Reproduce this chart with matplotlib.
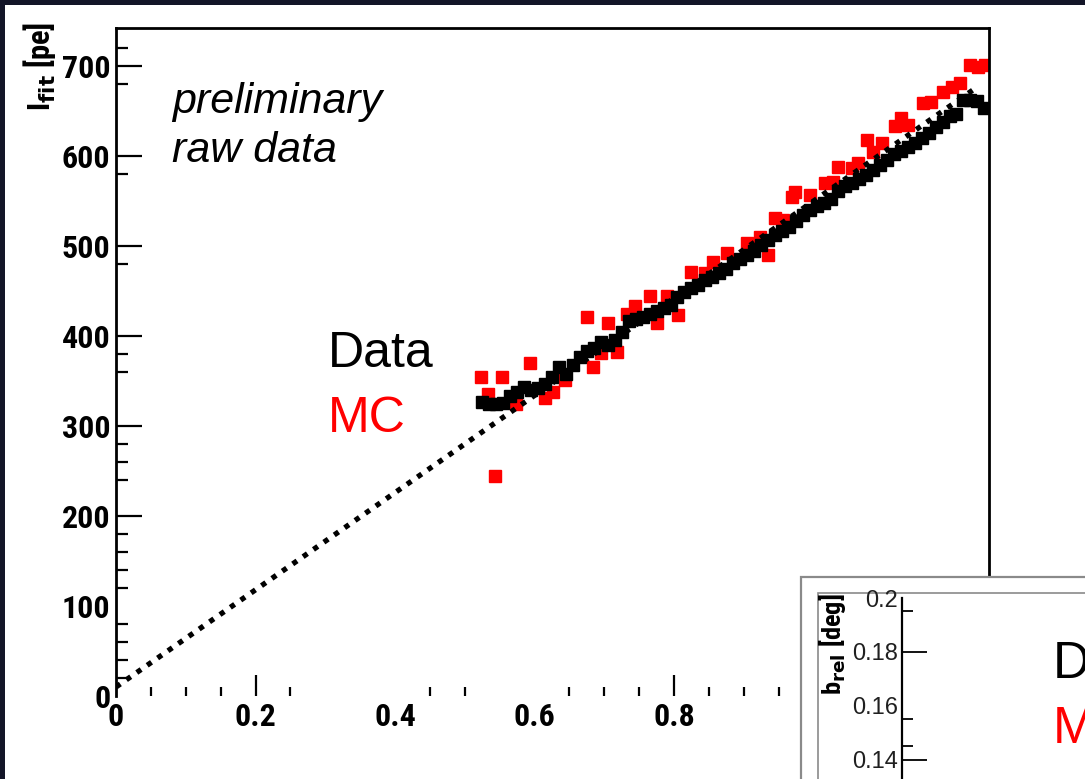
import matplotlib
matplotlib.use("Agg")
import matplotlib.pyplot as plt
from matplotlib.patches import Rectangle
from matplotlib import font_manager
import numpy as np

W, H = 1085, 779

# data
data_x = [0.525, 0.535, 0.545, 0.555, 0.565, 0.575, 0.585, 0.595, 0.605, 0.615,
          0.625, 0.635, 0.645, 0.655, 0.665, 0.675, 0.685, 0.695, 0.705, 0.715,
          0.725, 0.735, 0.745, 0.755, 0.765, 0.775, 0.785, 0.795, 0.805, 0.815,
          0.825, 0.835, 0.845, 0.855, 0.865, 0.875, 0.885, 0.895, 0.905, 0.915,
          0.925, 0.935, 0.945, 0.955, 0.965, 0.975, 0.985, 0.995, 1.005, 1.015,
          1.025, 1.035, 1.045, 1.055, 1.065, 1.075, 1.085, 1.095, 1.105, 1.115,
          1.125, 1.135, 1.145, 1.155, 1.165, 1.175, 1.185, 1.195, 1.205, 1.215,
          1.225, 1.235, 1.245]
data_y = [327, 325, 325, 326, 333, 338, 343, 340, 342, 347,
          354, 366, 358, 368, 377, 383, 387, 393, 390, 396,
          405, 417, 419, 421, 425, 428, 431, 435, 443, 449,
          453, 457, 462, 466, 470, 475, 481, 486, 490, 495,
          501, 507, 512, 517, 521, 528, 535, 540, 544, 548,
          552, 561, 567, 570, 575, 579, 584, 590, 596, 602,
          606, 610, 615, 620, 626, 632, 638, 644, 647, 662,
          662, 661, 653]

mc_x = [0.524, 0.553, 0.533, 0.543, 0.574, 0.594, 0.615, 0.627, 0.644, 0.675,
        0.684, 0.696, 0.706, 0.718, 0.732, 0.744, 0.766, 0.775, 0.790, 0.806,
        0.825, 0.844, 0.856, 0.876, 0.904, 0.923, 0.935, 0.945, 0.956, 0.969,
        0.973, 0.995, 1.016, 1.028, 1.035, 1.055, 1.064, 1.076, 1.085, 1.098,
        1.117, 1.126, 1.136, 1.157, 1.169, 1.186, 1.198, 1.210, 1.224, 1.236,
        1.246]
mc_y = [355, 355, 336, 245, 325, 370, 331, 338, 351, 421,
        366, 381, 414, 382, 425, 433, 444, 415, 444, 423,
        471, 470, 482, 492, 503, 510, 490, 531, 529, 555,
        560, 557, 570, 571, 588, 587, 592, 618, 605, 614,
        633, 642, 634, 659, 660, 671, 677, 681, 701, 699,
        701]

fit_x = [0.0, 1.228]
fit_y = [10, 673]

x_labels = [0, 0.2, 0.4, 0.6, 0.8]
x_minor = [0.05, 0.1, 0.15, 0.25, 0.45, 0.5, 0.65, 0.7, 0.75, 0.85, 0.9, 0.95]
y_labels = [0, 100, 200, 300, 400, 500, 600, 700]
y_minor = [20, 40, 60, 80, 120, 140, 160, 180, 240, 260, 280, 360, 380, 480, 580, 680, 720]

inset_labels = [0.14, 0.16, 0.18, 0.2]
inset_minor = [0.145, 0.155, 0.195]

# narrow bold font for the ROOT-style axis text, if there is one
names = {f.name for f in font_manager.fontManager.ttflist}
narrow_name = 'DejaVu Sans'
for cand in ['Liberation Sans Narrow', 'Roboto Condensed', 'Open Sans Condensed', 'DejaVu Sans']:
    if cand in names:
        narrow_name = cand
        break
narrow = [narrow_name, 'DejaVu Sans']
arial = ['Liberation Sans', 'DejaVu Sans']
condensed = any(f.name == 'DejaVu Sans' and f.stretch == 'condensed'
                for f in font_manager.fontManager.ttflist)
tick_size = 23 if narrow_name != 'DejaVu Sans' else (20 if condensed else 17)


def fx(px):
    return px / W


def fy(py):
    return 1 - py / H


fig = plt.figure(figsize=(W / 100, H / 100), dpi=100, facecolor='#131528')

# white panel
fig.patches.append(Rectangle((fx(5), -0.1), 1.2, fy(5) + 0.1, transform=fig.transFigure,
                             facecolor='white', edgecolor='none', zorder=-5))

ax = fig.add_axes([fx(116), fy(696), (989 - 116) / W, (696 - 28) / H])
ax.set_facecolor('white')
ax.set_xlim(0, (989 - 116) / 697.5)
ax.set_ylim(0, (696 - 28) / 0.9)
for s in ['left', 'top', 'right']:
    ax.spines[s].set_linewidth(2.0)
ax.spines['bottom'].set_visible(False)

ax.plot(fit_x, fit_y, color='black', lw=3.8, linestyle=(0, (1.0, 1.4)),
        dash_capstyle='butt', zorder=4)
ax.errorbar(data_x, data_y, xerr=0.006, yerr=4, fmt='s', ms=8.2, color='black',
            elinewidth=1.8, capsize=0, zorder=3)
ax.errorbar(mc_x, mc_y, xerr=0.007, yerr=4, fmt='s', ms=8.4, color='#ff0000',
            elinewidth=1.8, capsize=0, zorder=2)

ax.set_xticks(x_labels)
ax.set_xticklabels(['0', '0.2', '0.4', '0.6', '0.8'])
ax.set_xticks(x_minor, minor=True)
ax.set_yticks(y_labels)
ax.set_yticklabels([str(v) for v in y_labels])
ax.set_yticks(y_minor, minor=True)
ax.tick_params(axis='x', which='major', direction='in', length=15, width=1.6, pad=4,
               labelsize=tick_size)
ax.tick_params(axis='x', which='minor', direction='in', length=6.5, width=1.6)
ax.tick_params(axis='y', which='major', direction='in', length=19, width=1.6, pad=4,
               labelsize=tick_size)
ax.tick_params(axis='y', which='minor', direction='in', length=8.5, width=1.6)
for lab in ax.get_xticklabels() + ax.get_yticklabels():
    lab.set_family(narrow)
    lab.set_fontweight('bold')
    lab.set_fontstretch('condensed')
for i, t in enumerate(ax.xaxis.get_major_ticks()):
    if x_labels[i] in (0, 0.4, 0.6):
        t.tick1line.set_visible(False)
for i, t in enumerate(ax.yaxis.get_major_ticks()):
    if y_labels[i] in (0, 100):
        t.tick1line.set_visible(False)

fig.text(fx(40), fy(22), r'I$_{\mathbf{fit}}$ [pe]', rotation=90, ha='center', va='top',
         family=narrow, fontweight='bold', fontstretch='condensed', fontsize=22)

fig.text(fx(172), fy(113), 'preliminary', family=arial, style='italic', fontsize=31,
         va='baseline')
fig.text(fx(172), fy(162), 'raw data', family=arial, style='italic', fontsize=31,
         va='baseline')
fig.text(fx(328), fy(367), 'Data', family=arial, fontsize=36, va='baseline', color='black')
fig.text(fx(328), fy(432), 'MC', family=arial, fontsize=36, va='baseline', color='#ff0000')

# inset panel (cut by the picture edge)
fig.patches.append(Rectangle((fx(801), -0.2), 0.5, fy(577) + 0.2, transform=fig.transFigure,
                             facecolor='white', edgecolor='#8a8a8a', lw=1.6, zorder=2))
fig.patches.append(Rectangle((fx(818), -0.2), 0.5, fy(593) + 0.2, transform=fig.transFigure,
                             facecolor='none', edgecolor='#8a8a8a', lw=1.2, zorder=2.1))

axi = fig.add_axes([fx(902), -0.2, 0.5, fy(598) + 0.2], zorder=3)
axi.patch.set_visible(False)
ppu = 163 / 0.06
axi.set_ylim(0.2 - (934.8 - 595.5) / ppu, 0.2 - (598 - 595.5) / ppu)
axi.set_xlim(0, 1)
for s in ['top', 'right', 'bottom']:
    axi.spines[s].set_visible(False)
axi.spines['left'].set_linewidth(1.6)
axi.set_xticks([])
axi.set_yticks(inset_labels)
axi.set_yticklabels(['0.14', '0.16', '0.18', '0.2'])
axi.set_yticks(inset_minor, minor=True)
axi.tick_params(axis='y', which='major', direction='in', length=18, width=1.3, pad=3,
                labelsize=17, labelcolor='#202020')
axi.tick_params(axis='y', which='minor', direction='in', length=8, width=1.3)
for lab in axi.get_yticklabels():
    lab.set_family(arial)
for i, t in enumerate(axi.yaxis.get_major_ticks()):
    if inset_labels[i] in (0.16, 0.2):
        t.tick1line.set_visible(False)

fig.text(fx(833), fy(593), r'b$_{\mathbf{rel}}$ [deg]', rotation=90, ha='center', va='top',
         family=narrow, fontweight='bold', fontstretch='condensed', fontsize=19, zorder=4)
fig.text(fx(1053), fy(678), 'Data', family=arial, fontsize=37, va='baseline',
         color='black', zorder=4)
fig.text(fx(1053), fy(743), 'MC', family=arial, fontsize=37, va='baseline',
         color='#ff0000', zorder=4)

fig.savefig('out.png', dpi=100, facecolor=fig.get_facecolor())
